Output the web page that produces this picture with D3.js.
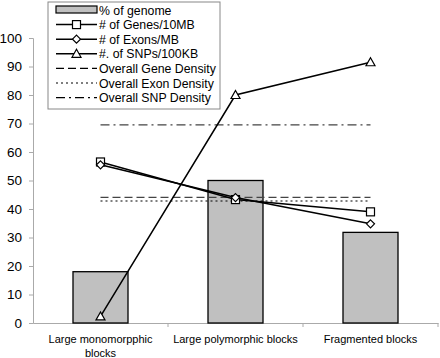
<!DOCTYPE html>
<html>
<head>
<meta charset="utf-8">
<script src="https://cdn.jsdelivr.net/npm/d3@7"></script>
<style>
  body { margin: 0; background: #fff; }
</style>
</head>
<body>
<div id="chart"></div>
<script>
// Chart data
var categories = ["Large monomorpphic blocks", "Large polymorphic blocks", "Fragmented blocks"];
var genome = [18, 50, 31.8];
var genes = [56.5, 43.3, 39];
var exons = [55.5, 44, 34.8];
var snps = [2.3, 80, 91.5];
var overallGene = 44.1;
var overallExon = 42.8;
var overallSnp = 69.5;
var yTicks = [0, 10, 20, 30, 40, 50, 60, 70, 80, 90, 100];

var FONT = "'Liberation Sans', Arial, Helvetica, sans-serif";

var svgWidth = 440;
var svgHeight = 358;
var margin = { top: 38, right: 2, bottom: 35, left: 33 };
var width = svgWidth - margin.left - margin.right;
var height = svgHeight - margin.top - margin.bottom;

var svg = d3.select("#chart").append("svg")
  .attr("width", svgWidth)
  .attr("height", svgHeight)
  .style("font-family", FONT);

var chartGroup = svg.append("g")
  .attr("transform", `translate(${margin.left}, ${margin.top})`);

var x = d3.scaleBand().domain(categories).range([0, 405]);
var y = d3.scaleLinear().domain([0, 100]).range([height, 0]);
var cx = d => x(d) + x.bandwidth() / 2;

// Axes
var leftAxis = d3.axisLeft(y).tickValues(yTicks).tickSize(4).tickPadding(7);
var yAxis = chartGroup.append("g").call(leftAxis).attr("font-family", FONT);
yAxis.select(".domain").attr("stroke", "#aaa");
yAxis.selectAll(".tick line").attr("stroke", "#aaa");
yAxis.selectAll("text").style("font-size", "13.5px").style("font-family", FONT).attr("fill", "#000");

var bottomAxis = d3.axisBottom(x).tickSize(0).tickFormat("");
var xAxis = chartGroup.append("g")
  .attr("transform", `translate(0, ${height})`)
  .call(bottomAxis);
xAxis.select(".domain").attr("stroke", "#aaa");
// band boundary ticks
xAxis.selectAll(".bt")
  .data(categories)
  .enter().append("line")
  .attr("x1", d => x(d) + x.bandwidth())
  .attr("x2", d => x(d) + x.bandwidth())
  .attr("y1", 0).attr("y2", 4)
  .attr("stroke", "#aaa");

// category labels
var labelLines = [["Large monomorpphic", "blocks"], ["Large polymorphic blocks"], ["Fragmented blocks"]];
chartGroup.selectAll(".xlab")
  .data(categories)
  .enter().append("text")
  .attr("text-anchor", "middle")
  .attr("x", d => cx(d))
  .attr("y", height + 20)
  .style("font-size", "11px")
  .style("font-family", FONT)
  .each(function(d, i) {
    d3.select(this).selectAll("tspan")
      .data(labelLines[i])
      .enter().append("tspan")
      .attr("x", cx(d))
      .attr("dy", (t, j) => j === 0 ? 0 : 14)
      .text(t => t);
  });

// Bars
chartGroup.selectAll(".bar")
  .data(categories)
  .enter().append("rect")
  .attr("x", d => cx(d) - 27.5)
  .attr("width", 55)
  .attr("y", (d, i) => y(genome[i]))
  .attr("height", (d, i) => height - y(genome[i]))
  .attr("fill", "#c0c0c0")
  .attr("stroke", "#000")
  .attr("stroke-width", 1.3);

// Overall density lines
var refLines = [
  { v: overallGene, dash: "8,4", color: "#444" },
  { v: overallExon, dash: "2,3", color: "#000" },
  { v: overallSnp, dash: "9,4,2,4", color: "#444" }
];
chartGroup.selectAll(".ref")
  .data(refLines)
  .enter().append("line")
  .attr("x1", cx(categories[0]))
  .attr("x2", cx(categories[2]))
  .attr("y1", d => y(d.v))
  .attr("y2", d => y(d.v))
  .attr("stroke", d => d.color)
  .attr("stroke-width", 1.2)
  .attr("stroke-dasharray", d => d.dash);

// Line series
var line = d3.line().x((d, i) => cx(categories[i])).y(d => y(d));
var series = [
  { values: genes, marker: "square" },
  { values: exons, marker: "diamond" },
  { values: snps, marker: "triangle" }
];

function drawMarker(g, type, px, py) {
  if (type === "square") {
    g.append("rect").attr("x", px - 4).attr("y", py - 4).attr("width", 8).attr("height", 8)
      .attr("fill", "#fff").attr("stroke", "#000").attr("stroke-width", 1.2);
  } else if (type === "diamond") {
    g.append("path").attr("d", `M${px},${py - 4}L${px + 4},${py}L${px},${py + 4}L${px - 4},${py}Z`)
      .attr("fill", "#fff").attr("stroke", "#000").attr("stroke-width", 1.2);
  } else {
    g.append("path").attr("d", `M${px},${py - 4.5}L${px + 4.5},${py + 3.5}L${px - 4.5},${py + 3.5}Z`)
      .attr("fill", "#fff").attr("stroke", "#000").attr("stroke-width", 1.2);
  }
}

series.forEach(function(s) {
  chartGroup.append("path")
    .datum(s.values)
    .attr("d", line)
    .attr("fill", "none")
    .attr("stroke", "#000")
    .attr("stroke-width", 1.5);
});
series.forEach(function(s) {
  s.values.forEach(function(v, i) {
    drawMarker(chartGroup, s.marker, cx(categories[i]), y(v));
  });
});

// Legend
var legend = svg.append("g").attr("transform", "translate(48, 2)");
legend.append("rect")
  .attr("width", 172).attr("height", 107)
  .attr("fill", "#fff").attr("stroke", "#888");

var legendItems = [
  { label: "% of genome", kind: "bar" },
  { label: "# of Genes/10MB", kind: "square" },
  { label: "# of Exons/MB", kind: "diamond" },
  { label: "#. of SNPs/100KB", kind: "triangle" },
  { label: "Overall Gene Density", kind: "ref", dash: "8,4" },
  { label: "Overall Exon Density", kind: "ref", dash: "2,3" },
  { label: "Overall SNP Density", kind: "ref", dash: "9,4,2,4" }
];

legendItems.forEach(function(item, i) {
  var ly = 8 + i * 14.6;
  var g = legend.append("g");
  if (item.kind === "bar") {
    g.append("rect").attr("x", 8).attr("y", ly - 4).attr("width", 41).attr("height", 7)
      .attr("fill", "#c0c0c0").attr("stroke", "#000").attr("stroke-width", 1.2);
  } else if (item.kind === "ref") {
    g.append("line").attr("x1", 8).attr("x2", 49).attr("y1", ly).attr("y2", ly)
      .attr("stroke", "#000").attr("stroke-width", 1.2).attr("stroke-dasharray", item.dash);
  } else {
    g.append("line").attr("x1", 8).attr("x2", 49).attr("y1", ly).attr("y2", ly)
      .attr("stroke", "#000").attr("stroke-width", 1.5);
    drawMarker(g, item.kind, 28.5, ly);
  }
  g.append("text")
    .attr("x", 51).attr("y", ly + 4.5)
    .style("font-size", "12.3px")
    .style("font-family", FONT)
    .text(item.label);
});
</script>
</body>
</html>
